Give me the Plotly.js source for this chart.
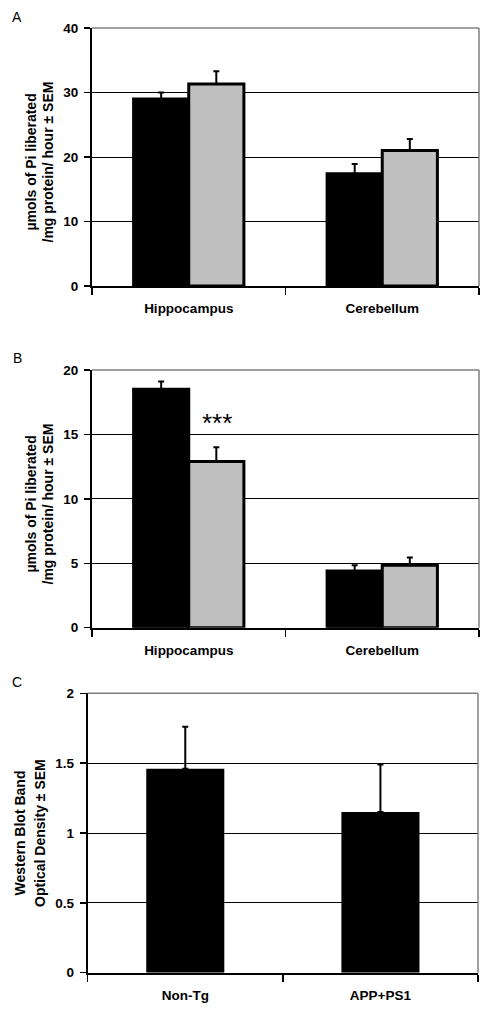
<!DOCTYPE html>
<html>
<head>
<meta charset="utf-8">
<script src="https://cdn.plot.ly/plotly-3.0.1.min.js"></script>
<style>html,body{margin:0;padding:0;background:#fff;}#chart{width:493px;height:1026px;}</style>
</head>
<body>
<div id="chart"></div>
<script>
// ---- data ----
var regions = ['Hippocampus', 'Cerebellum'];
var groupsC = ['Non-Tg', 'APP+PS1'];

// Panel A
var aNonTg = [29.0, 17.4];
var aNonTgErr = [1.0, 1.5];
var aTg = [31.3, 21.0];
var aTgErr = [2.0, 1.8];

// Panel B
var bNonTg = [18.5, 4.4];
var bNonTgErr = [0.6, 0.45];
var bTg = [12.9, 4.85];
var bTgErr = [1.1, 0.6];

// Panel C
var cValues = [1.46, 1.15];
var cErr = [0.30, 0.34];

var panelLetters = ['A', 'B', 'C'];
var yTitlesAB = ['µmols of Pi liberated', '/mg protein/ hour ± SEM'];
var yTitlesC = ['Western Blot Band', 'Optical Density ± SEM'];
var sigMark = '***';

// ---- styling ----
var FONT = 'Liberation Sans, Arial, sans-serif';
var W = 493, H = 1026;
function px(x) { return x / W; }
function py(y) { return (H - y) / H; }

function errUp(arr) {
  return {type: 'data', array: arr, arrayminus: arr.map(function(){return 0;}), symmetric: false,
          color: '#000', thickness: 2, width: 3};
}

var traces = [
  {type: 'bar', x: regions, y: aNonTg, xaxis: 'x', yaxis: 'y', marker: {color: '#000', line: {color: '#000', width: 3}}, error_y: errUp(aNonTgErr)},
  {type: 'bar', x: regions, y: aTg, xaxis: 'x', yaxis: 'y', marker: {color: '#c0c0c0', line: {color: '#000', width: 3}}, error_y: errUp(aTgErr)},
  {type: 'bar', x: regions, y: bNonTg, xaxis: 'x2', yaxis: 'y2', marker: {color: '#000', line: {color: '#000', width: 3}}, error_y: errUp(bNonTgErr)},
  {type: 'bar', x: regions, y: bTg, xaxis: 'x2', yaxis: 'y2', marker: {color: '#c0c0c0', line: {color: '#000', width: 3}}, error_y: errUp(bTgErr)},
  {type: 'bar', x: groupsC, y: cValues, xaxis: 'x3', yaxis: 'y3', width: 0.4, marker: {color: '#000', line: {width: 0}}, error_y: errUp(cErr)}
];

var tickFont = {family: FONT, size: 13.5, color: '#000', weight: 'bold'};

function xAx(domain, anchor) {
  return {domain: domain, anchor: anchor, type: 'category', showline: true, linecolor: '#000', linewidth: 2,
    ticks: 'outside', tickson: 'boundaries', ticklen: 7, tickwidth: 1.5, tickcolor: '#000',
    showgrid: false, zeroline: false, tickfont: tickFont, ticklabelstandoff: 9, fixedrange: true};
}
function yAx(domain, anchor, range, dtick) {
  return {domain: domain, anchor: anchor, range: range, dtick: dtick, tick0: 0, showline: true, linecolor: '#000', linewidth: 2,
    ticks: 'outside', ticklen: 6, tickwidth: 1.5, tickcolor: '#000', showgrid: true, gridcolor: '#000', gridwidth: 1,
    zeroline: false, tickfont: tickFont, ticklabelstandoff: 3, fixedrange: true};
}

var domAx = [px(92), px(479)];
var domC = [px(87.7), px(478)];

var layout = {
  width: W, height: H,
  margin: {l: 0, r: 0, t: 0, b: 0},
  paper_bgcolor: '#fff', plot_bgcolor: '#fff',
  showlegend: false,
  barmode: 'group', bargap: 0.43, bargroupgap: 0,
  font: {family: FONT, color: '#000'},
  xaxis: xAx(domAx, 'y'),
  yaxis: yAx([py(286), py(28)], 'x', [0, 40], 10),
  xaxis2: xAx(domAx, 'y2'),
  yaxis2: yAx([py(627.7), py(370)], 'x2', [0, 20], 5),
  xaxis3: xAx(domC, 'y3'),
  yaxis3: yAx([py(972.7), py(693.3)], 'x3', [0, 2], 0.5),
  shapes: [],
  annotations: []
};

// gray top and right frame
[['x', 'y'], ['x2', 'y2'], ['x3', 'y3']].forEach(function(p) {
  layout.shapes.push({type: 'line', xref: p[0] + ' domain', yref: p[1] + ' domain', x0: 0, x1: 1, y0: 1, y1: 1, line: {color: '#808080', width: 1.5}});
  layout.shapes.push({type: 'line', xref: p[0] + ' domain', yref: p[1] + ' domain', x0: 1, x1: 1, y0: 0, y1: 1, line: {color: '#808080', width: 1.5}});
});

// panel letters
var letterY = [17, 358, 682];
panelLetters.forEach(function(l, i) {
  layout.annotations.push({text: l, xref: 'paper', yref: 'paper', x: px(17), y: py(letterY[i]), showarrow: false,
    xanchor: 'center', yanchor: 'middle', font: {family: FONT, size: 14, color: '#000'}});
});

// y titles
function yTitle(lines, xs, yc) {
  lines.forEach(function(t, i) {
    layout.annotations.push({text: t, textangle: -90, xref: 'paper', yref: 'paper', x: px(xs[i]), y: py(yc),
      showarrow: false, xanchor: 'center', yanchor: 'middle',
      font: {family: FONT, size: 14, color: '#000', weight: 'bold'}});
  });
}
yTitle(yTitlesAB, [30.5, 47.5], 162);
yTitle(yTitlesAB, [30.5, 47.5], 504);
yTitle(yTitlesC, [19.5, 40], 833);

// significance mark over the APP+PS1 hippocampus bar (panel B)
layout.annotations.push({text: sigMark, xref: 'x2', yref: 'y2', x: regions[0], y: 15.9, xshift: 28,
  showarrow: false, xanchor: 'center', yanchor: 'middle', font: {family: FONT, size: 26, color: '#000'}});

Plotly.newPlot('chart', traces, layout, {staticPlot: true, displayModeBar: false});
</script>
</body>
</html>
